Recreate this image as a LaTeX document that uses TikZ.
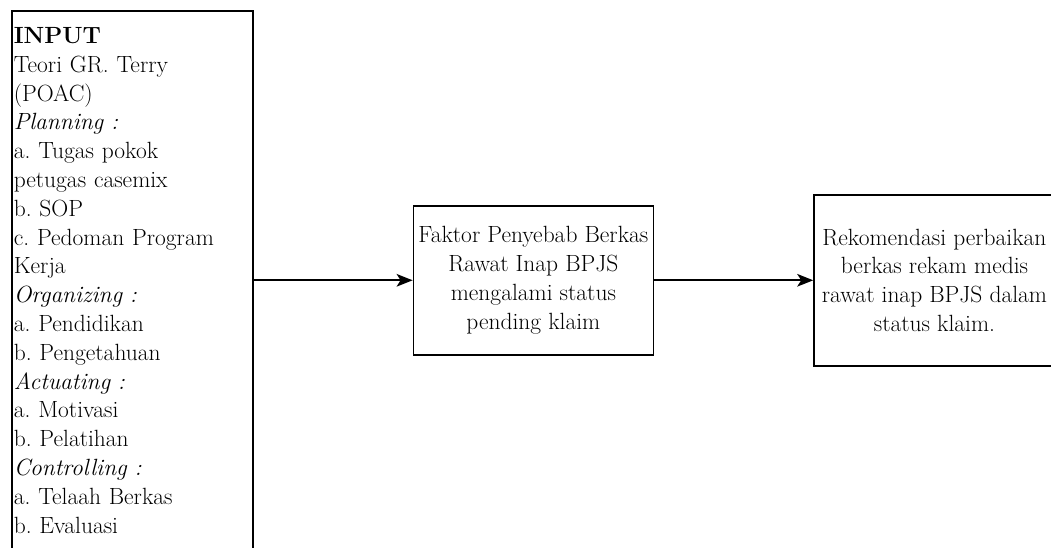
\documentclass[tikz,border=0pt]{standalone}
\usepackage{fontspec}
\usetikzlibrary{arrows.meta,positioning}
\frenchspacing

\begin{document}
\begin{tikzpicture}[
    x=0.75pt, y=-0.75pt,
    node distance=119.25pt,
    box/.style={rectangle, draw, line width=1.2pt, minimum width=180pt, minimum height=111.75pt, align=center, inner sep=1pt, font=\fontsize{17.6}{21.6}\selectfont},
    inputbox/.style={rectangle, draw, line width=1.2pt, text width=177.75pt, align=left, inner xsep=1.5pt, inner ysep=12.4pt, anchor=north west, font=\fontsize{17.6}{21.6}\selectfont},
    arrow/.style={-{Stealth[length=12pt, width=9.5pt, inset=3pt]}, line width=1.2pt}
]
\useasboundingbox (0,0) rectangle (1051,547);

\node[inputbox] (input) at (11,10) {\textbf{INPUT}\\
Teori GR. Terry\\
(POAC)\\
\textit{Planning :}\\
a. Tugas pokok\\
petugas casemix\\
b. SOP\\
c. Pedoman Program\\
Kerja\\
\textit{Organizing :}\\
a. Pendidikan\\
b. Pengetahuan\\
\textit{Actuating :}\\
a. Motivasi\\
b. Pelatihan\\
\textit{Controlling :}\\
a. Telaah Berkas\\
b. Evaluasi};
\node[box, right=of input] (factor) {Faktor Penyebab Berkas\\ Rawat Inap BPJS\\ mengalami status\\ pending klaim};
\node[box, right=of factor, minimum width=180.75pt, minimum height=128.25pt] (recom) {Rekomendasi perbaikan\\ berkas rekam medis\\ rawat inap BPJS dalam\\ status klaim.};

\draw[arrow] (input) -- (factor);
\draw[arrow] (factor) -- (recom);
\end{tikzpicture}
\end{document}
